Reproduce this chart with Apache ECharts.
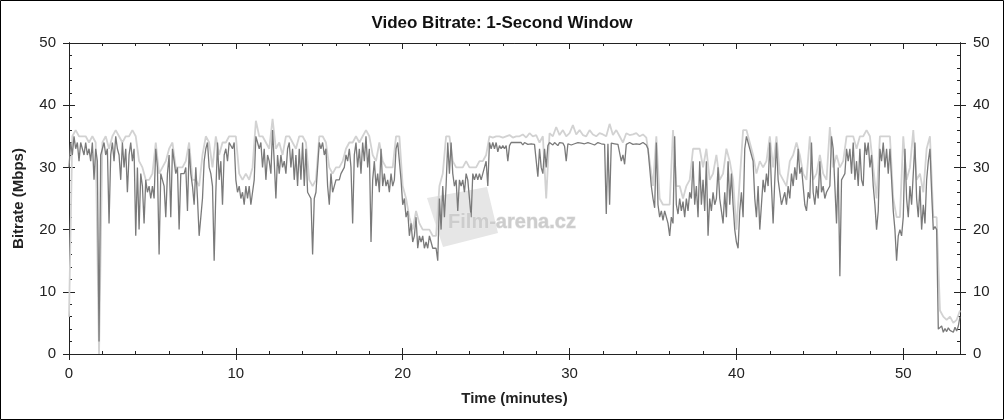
<!DOCTYPE html>
<html>
<head>
<meta charset="utf-8">
<script src="https://cdn.jsdelivr.net/npm/echarts@6/dist/echarts.min.js"></script>
<style>
html,body{margin:0;padding:0;background:#fff;}
#chart{width:1004px;height:420px;}
</style>
</head>
<body>
<div id="chart"></div>
<script>
// ---- Data ----
const titleText = 'Video Bitrate: 1-Second Window';
const xAxisName = 'Time (minutes)';
const yAxisName = 'Bitrate (Mbps)';
const watermarkText = 'Film-arena.cz';

// main (dark) trace, one value every 0.1 minute from t = 0
const darkStepMin = 0.1;
const darkMbps = [
  30, 34, 32, 35, 33, 34, 31, 34, 33, 32,
  34, 32, 33, 31, 34, 28, 33, 31, 2, 32,
  33, 34, 32, 33, 21, 32, 34, 31, 35, 33,
  32, 28, 34, 30, 33, 26, 32, 34, 31, 33,
  19, 30, 20, 29, 27, 21, 28, 26, 27, 25,
  27, 25, 33, 30, 16, 29, 28, 27, 22, 29,
  32, 22, 33, 31, 29, 30, 20, 29, 29, 29,
  30, 23, 33, 29, 27, 24, 30, 25, 19, 19,
  25, 31, 33, 34, 30, 29, 27, 15, 26, 34,
  28, 31, 24, 32, 33, 31, 34, 34, 33, 34,
  28, 26, 27, 25, 26, 24, 27, 25, 27, 24,
  26, 28, 35, 34, 33, 34, 30, 33, 28, 32,
  31, 29, 36, 31, 25, 32, 29, 32, 30, 31,
  29, 33, 34, 30, 33, 28, 32, 27, 33, 28,
  34, 27, 33, 26, 26, 25, 16, 25, 26, 26,
  34, 33, 34, 32, 33, 27, 24, 29, 26, 27,
  28, 28, 28, 29, 29, 30, 32, 31, 33, 30,
  21, 32, 34, 30, 33, 29, 34, 31, 35, 30,
  33, 18, 28, 31, 27, 29, 26, 33, 27, 29,
  27, 28, 26, 29, 27, 28, 33, 34, 34, 28,
  24, 25, 22, 23, 19, 21, 18, 19, 22, 17,
  19, 18, 19, 17, 18, 17, 19, 18, 17, 17,
  17, 15, 25, 20, 27, 22, 27, 34, 29, 34,
  29, 27, 28, 23, 28, 27, 28, 26, 29, 28,
  28, 22, 29, 28, 29, 28, 29, 28, 29, 29,
  31, 27, 34, 33, 34, 33, 34, 32.5, 33.5, 33,
  33.5, 33, 33.5, 31, 33.5, 34, 33.8, 34, 33.7, 34,
  33.8, 34, 33.6, 34, 33.9, 33.7, 34, 33.8, 33.9, 33.7,
  33.8, 28.5, 33, 30, 29, 33, 30, 33.5, 34, 33.8,
  33.6, 34, 33.8, 33.5, 34, 33.7, 33.9, 33.4, 31, 33.8,
  34, 33.6, 33.9, 33.8, 33.7, 34, 33.8, 33.9, 33.7, 33.8,
  33.8, 34, 33.7, 33.8, 33.9, 33.6, 33.8, 34, 33.7, 33.8,
  33.8, 33.7, 22.5, 33.8, 24, 33.9, 33.7, 33.8, 34, 33.7,
  33.8, 31, 32, 30.5, 33.7, 33.8, 34, 33.8, 33.7, 33.9,
  33.8, 33.9, 33.7, 33.8, 34, 33.8, 33.6, 33, 30, 27,
  25, 23.5, 34, 24, 22, 23, 21.5, 23, 22, 21,
  19, 22, 21, 35, 24, 22.5, 25, 23, 24.5, 22,
  25, 23, 26, 25, 31, 24, 27, 22, 31, 24,
  28, 23, 31, 19, 25, 23, 26, 24, 25, 30,
  25, 23, 21, 26, 22, 31, 24, 29, 24, 20,
  18, 17, 23, 26, 22, 33, 35, 34, 33, 32,
  31, 25, 22, 27, 20, 24, 28, 26, 29, 27,
  34, 27, 21, 28, 34, 28, 26, 24, 25, 26,
  24, 27, 25, 29, 27, 30, 28, 33, 29, 30,
  27, 24, 23, 26, 25, 34, 26, 24, 27, 25,
  31, 26, 27, 25, 26, 26, 27, 35, 33, 27,
  21, 30, 12.5, 28, 28.5, 29, 33, 31, 33, 29,
  34, 28, 31, 27, 33, 28, 27, 34, 32, 34,
  30, 32, 27, 24, 20, 23, 33, 31, 34, 30,
  33, 29, 33, 28, 23, 20, 15, 19, 20, 19,
  22, 33, 25, 22, 27, 24, 29, 34, 25, 22,
  27, 20, 24, 21, 28, 31, 33, 26, 20, 20.5,
  20, 4, 3.8, 4.5, 3.5, 4.1, 3.6, 4.2, 3.8, 4,
  3.5, 4.3, 3.7, 4.5, 6
];

// light (spread / peak) trace, one value every 0.2 minute from t = 0
const lightStepMin = 0.2;
const lightMbps = [
  6, 35, 36, 35, 35,
  35, 34, 35, 34, 0,
  34, 35, 33, 35, 36,
  35, 34, 35, 35, 36,
  35, 31, 30, 28, 28,
  29, 34, 29, 30, 31,
  33, 34, 30, 30, 30,
  31, 34, 28, 28, 27,
  32, 35, 34, 30, 35,
  32, 34, 34, 35, 35,
  35, 29, 28, 29, 28,
  30, 37.5, 35, 35, 34,
  33, 37.8, 33, 34, 32,
  35, 35, 34, 33, 35,
  35, 34, 28, 27, 28,
  35, 35, 34, 30, 29,
  30, 30, 31, 33, 34,
  34, 35, 34, 35, 36,
  35, 32, 31, 34, 31,
  30, 30, 30, 35, 35,
  27, 25, 22, 20, 23,
  21, 20, 20, 20, 19,
  19, 27, 29, 35, 35,
  31, 30, 30, 30, 31,
  30, 30, 30, 31, 31,
  32, 35, 34.8, 35, 35,
  34.8, 35, 35.2, 34.8, 35,
  35, 35.3, 34.8, 35.5, 35,
  35.2, 34, 35, 25, 35.5,
  35, 36.5, 35.2, 36, 35,
  35.5, 36.8, 35.3, 36, 35.2,
  35, 36, 35.3, 35, 35.5,
  35.3, 35, 37, 35.2, 36,
  35, 34, 35.5, 35.2, 35.3,
  35.5, 35, 35.3, 34.8, 31,
  27, 35, 25, 24, 24,
  24, 36, 27, 27, 25,
  27, 28, 33, 33, 33,
  30, 33, 28, 29, 32,
  28, 29, 33, 31, 28,
  20, 28, 36, 36, 34,
  32, 29, 31, 30, 31,
  35, 30, 35, 29, 28,
  27, 31, 32, 34, 32,
  29, 28, 35, 28, 29,
  32, 29, 28, 36.5, 30,
  32, 30, 31, 35, 35,
  35, 33, 35, 35, 36,
  35, 30, 25, 35, 35,
  35, 35, 25, 22, 22,
  35, 28, 30, 36, 28,
  29, 26, 33, 35, 22,
  22, 7, 6, 5.5, 6,
  5, 5.5, 7
];

const xMin = 0, xMax = 53.4;
const yMin = 0, yMax = 50;
const xMajorTicks = [0, 10, 20, 30, 40, 50];
const xMinorTicks = [2, 4, 6, 8, 12, 14, 16, 18, 22, 24, 26, 28, 32, 34, 36, 38, 42, 44, 46, 48, 52];
const yMajorTicks = [0, 10, 20, 30, 40, 50];
const yMinorTicks = [2, 4, 6, 8, 12, 14, 16, 18, 22, 24, 26, 28, 32, 34, 36, 38, 42, 44, 46, 48];

// ---- Build series data ----
const darkData = darkMbps.map((v, i) => [Math.round(i * darkStepMin * 100) / 100, v]);
const lightData = lightMbps.map((v, i) => [Math.round(i * lightStepMin * 100) / 100, v]);

const axisColor = '#222';
const labelFont = { fontFamily: 'Liberation Sans, Arial, sans-serif', fontSize: 15, color: '#222' };

function xAx(position, inside, ticks, len, withLabel) {
  const a = {
    type: 'value', position: position, min: xMin, max: xMax,
    axisLine: { show: true, onZero: false, lineStyle: { color: axisColor, width: 1 } },
    axisTick: { show: true, inside: inside, length: len, customValues: ticks, lineStyle: { color: axisColor } },
    splitLine: { show: false },
    axisLabel: { show: false }
  };
  if (withLabel) {
    a.axisLabel = Object.assign({ show: true, margin: 12, customValues: xMajorTicks }, labelFont);
    a.name = xAxisName;
    a.nameLocation = 'middle';
    a.nameGap = 37;
    a.nameTextStyle = { fontFamily: 'Liberation Sans, Arial, sans-serif', fontSize: 15, fontWeight: 'bold', color: '#222' };
  }
  return a;
}
function yAx(position, inside, ticks, len, withLabel, withName) {
  const a = {
    type: 'value', position: position, min: yMin, max: yMax, interval: 10,
    axisLine: { show: true, onZero: false, lineStyle: { color: axisColor, width: 1 } },
    axisTick: { show: true, inside: inside, length: len, customValues: ticks, lineStyle: { color: axisColor } },
    splitLine: { show: false },
    axisLabel: { show: false }
  };
  if (withLabel) {
    a.axisLabel = Object.assign({ show: true, margin: 13, customValues: yMajorTicks }, labelFont);
  }
  if (withName) {
    a.name = yAxisName;
    a.nameLocation = 'middle';
    a.nameGap = 43;
    a.nameTextStyle = { fontFamily: 'Liberation Sans, Arial, sans-serif', fontSize: 15, fontWeight: 'bold', color: '#222' };
  }
  return a;
}

const chart = echarts.init(document.getElementById('chart'), null, { renderer: 'canvas' });
chart.setOption({
  animation: false,
  backgroundColor: '#fff',
  title: {
    text: titleText, left: 'center', top: 10,
    textStyle: { fontFamily: 'Liberation Sans, Arial, sans-serif', fontSize: 17, fontWeight: 'bold', color: '#111' }
  },
  grid: { left: 69, right: 44, top: 43, bottom: 66, containLabel: false },
  xAxis: [
    xAx('bottom', false, xMajorTicks, 6, true),
    xAx('bottom', true, xMajorTicks, 6, false),
    xAx('bottom', true, xMinorTicks, 3, false),
    xAx('top', true, xMajorTicks, 6, false),
    xAx('top', true, xMinorTicks, 3, false)
  ],
  yAxis: [
    yAx('left', false, yMajorTicks, 6, true, true),
    yAx('left', true, yMajorTicks, 6, false, false),
    yAx('left', true, yMinorTicks, 3, false, false),
    yAx('right', false, yMajorTicks, 6, true, false),
    yAx('right', true, yMajorTicks, 6, false, false),
    yAx('right', true, yMinorTicks, 3, false, false)
  ],
  graphic: [
    { type: 'rect', silent: true, z: 100, shape: { x: 0.5, y: 0.5, width: 1003, height: 419 },
      style: { fill: 'none', stroke: '#000', lineWidth: 1 } },
    { type: 'polygon', silent: true, z: 0,
      shape: { points: [[427, 198], [487, 187], [498, 233], [443, 247]] },
      style: { fill: '#e6e6e6' } },
    { type: 'text', silent: true, z: 10, x: 512, y: 222,
      style: { text: watermarkText, fill: '#cdcdcd', stroke: '#e8e8e8', lineWidth: 1,
        font: 'bold 20px "Liberation Sans", Arial, sans-serif', align: 'center', verticalAlign: 'middle' } }
  ],
  series: [
    { type: 'line', name: 'peak', xAxisIndex: 0, yAxisIndex: 0, data: lightData,
      showSymbol: false, symbol: 'none', z: 2,
      lineStyle: { color: '#d2d2d2', width: 1.8 } },
    { type: 'line', name: 'bitrate', xAxisIndex: 0, yAxisIndex: 0, data: darkData,
      showSymbol: false, symbol: 'none', z: 3,
      lineStyle: { color: '#7a7a7a', width: 1.3 } }
  ]
});
</script>
</body>
</html>
